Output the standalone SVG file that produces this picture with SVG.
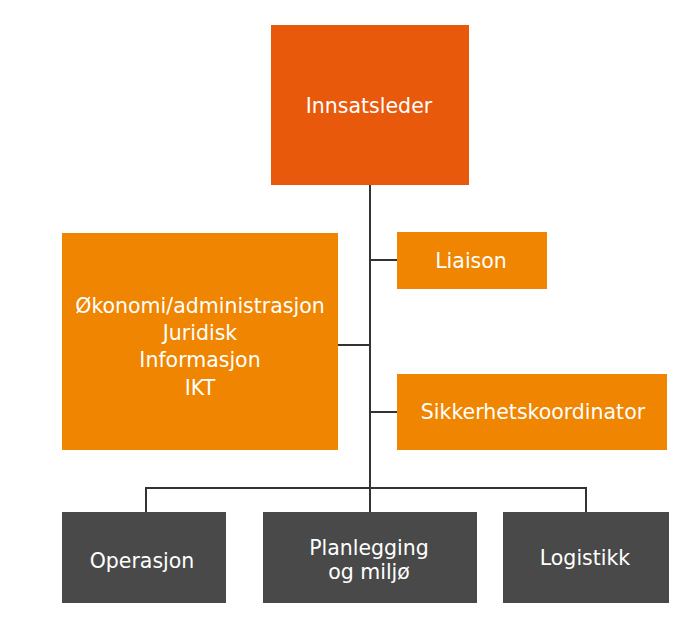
<svg xmlns="http://www.w3.org/2000/svg" width="689" height="632" viewBox="0 0 689 632">
<style>
.lead{fill:#E8590C}
.staff{fill:#EF8500}
.sect{fill:#494949}
.conn{stroke:#333;stroke-width:2;fill:none}
text{font-family:"DejaVu Sans","Liberation Sans",sans-serif;font-size:20.5px;fill:#fff;text-anchor:middle}
</style>
<rect width="689" height="632" fill="#fff"/>
<g id="connectors">
<path class="conn" d="M370 185V512M370 260H397M338 345H370M370 412H397M146 512V488H586V512"/>
</g>
<g id="innsatsleder">
<rect class="lead" x="271" y="25" width="198" height="160"/>
<text x="369" y="113">Innsatsleder</text>
</g>
<g id="stab">
<rect class="staff" x="62" y="233" width="276" height="217"/>
<text x="200" y="313">Økonomi/administrasjon</text>
<text x="200" y="340">Juridisk</text>
<text x="200" y="367">Informasjon</text>
<text x="200" y="395">IKT</text>
</g>
<g id="liaison">
<rect class="staff" x="397" y="232" width="150" height="57"/>
<text x="471" y="268">Liaison</text>
</g>
<g id="sikkerhet">
<rect class="staff" x="397" y="374" width="270" height="76"/>
<text x="533" y="419">Sikkerhetskoordinator</text>
</g>
<g id="operasjon">
<rect class="sect" x="62" y="512" width="164" height="91"/>
<text x="142" y="568">Operasjon</text>
</g>
<g id="planlegging">
<rect class="sect" x="263" y="512" width="214" height="91"/>
<text x="369" y="555">Planlegging</text>
<text x="369" y="579">og miljø</text>
</g>
<g id="logistikk">
<rect class="sect" x="503" y="512" width="166" height="91"/>
<text x="585" y="565">Logistikk</text>
</g>
</svg>
